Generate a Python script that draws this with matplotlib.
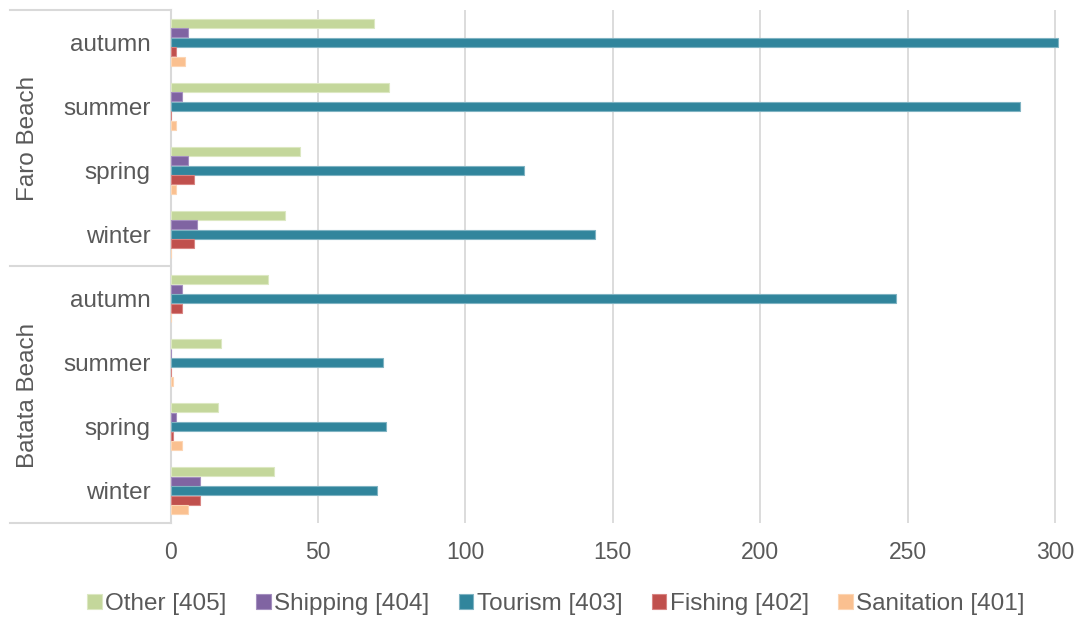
import matplotlib
matplotlib.use("Agg")
import matplotlib.pyplot as plt
import numpy as np

plt.rcParams['font.family'] = ['Liberation Sans', 'DejaVu Sans']

groups = ["Faro Beach", "Batata Beach"]
seasons = ["autumn", "summer", "spring", "winter"]
series = ["Other [405]", "Shipping [404]", "Tourism [403]", "Fishing [402]", "Sanitation [401]"]
colors = ["#C4D79B", "#8064A2", "#31859C", "#C0504D", "#FAC090"]
edgecolors = ["#DCE8C2", "#A48FBF", "#7FB3C2", "#D88583", "#FCD5B4"]

# rows top->bottom: Faro autumn, summer, spring, winter, Batata autumn, summer, spring, winter
other      = [69, 74, 44, 39, 33, 17, 16, 35]
shipping   = [6, 4, 6, 9, 4, 0, 2, 10]
tourism    = [301, 288, 120, 144, 246, 72, 73, 70]
fishing    = [2, 0, 8, 8, 4, 0, 1, 10]
sanitation = [5, 2, 2, 0, 0, 1, 4, 6]
values = [other, shipping, tourism, fishing, sanitation]

W, H = 1077, 619
fig = plt.figure(figsize=(W/100, H/100), dpi=100)
x0, x1 = 170.5, 1060.8
ytop, ybot = 10, 523
ax = fig.add_axes([x0/W, (H-ybot)/H, (x1-x0)/W, (ybot-ytop)/H])

n = len(other)
ypos = np.arange(n)
h = 0.148
for k, (vals, c, ec, lab) in enumerate(zip(values, colors, edgecolors, series)):
    ax.barh(ypos + (k-2)*h, vals, height=h*0.95, color=c, edgecolor=ec,
            linewidth=0.8, label=lab, zorder=3)

ax.set_ylim(n-0.5, -0.5)
ax.set_xlim(0, 302)
ax.set_xticks([0, 50, 100, 150, 200, 250, 300])
ax.tick_params(axis='x', length=0, pad=13, labelsize=16.5, labelcolor='#595959')
ax.grid(axis='x', color='#D9D9D9', linewidth=1.3, zorder=0)
for s in ['top', 'right', 'bottom']:
    ax.spines[s].set_visible(False)
ax.spines['left'].set_color('#D9D9D9')
ax.spines['left'].set_linewidth(1.5)
ax.set_yticks(ypos)
ax.set_yticklabels(seasons*2)
ax.tick_params(axis='y', length=0, pad=14.5, labelsize=17.5, labelcolor='#595959')

# hierarchical axis lines
lc = '#D9D9D9'
for yy in [ytop, 266, ybot]:
    fig.add_artist(plt.Line2D([10/W, x0/W], [(H-yy)/H]*2, color=lc, linewidth=1.5))

fig.text(28/W, (H-138)/H, groups[0], rotation=90, ha='center', va='center',
         fontsize=17.5, color='#595959')
fig.text(28/W, (H-395)/H, groups[1], rotation=90, ha='center', va='center',
         fontsize=17.5, color='#595959')

leg = fig.legend(loc='center', bbox_to_anchor=(556/W, (H-604)/H), ncol=5, frameon=False,
                 fontsize=17.5, handlelength=0.6, handleheight=0.6, handletextpad=0.15,
                 columnspacing=1.2)
for t in leg.get_texts():
    t.set_color('#595959')

fig.savefig("out.png", dpi=100)
